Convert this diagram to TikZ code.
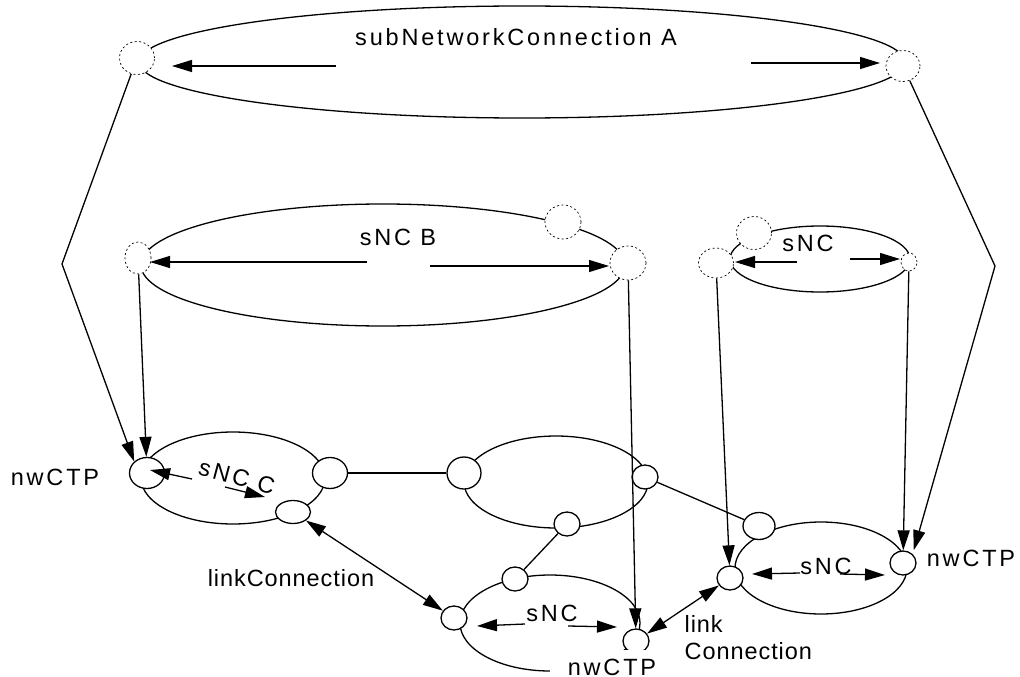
\documentclass[tikz,border=0pt]{standalone}
\usepackage{fontspec}
\setmainfont{Liberation Sans}
\newfontfamily\widefont[LetterSpace=12]{Liberation Sans}
\newfontfamily\linkfont[LetterSpace=4]{Liberation Sans}
\usetikzlibrary{shapes.geometric, arrows.meta}

\tikzstyle{snc}=[ellipse, draw, inner sep=0]
\tikzstyle{ctp}=[ellipse, draw, fill=white, inner sep=0,
                 minimum width=26pt, minimum height=24pt]
\tikzstyle{ghost}=[ellipse, draw, fill=white, inner sep=0, line width=0.7pt,
                   dash pattern=on 2pt off 2.5pt,
                   minimum width=35pt, minimum height=33pt]
\tikzstyle{lbl}=[font=\widefont\fontsize{23.5}{28}\selectfont, inner sep=1pt]
\tikzstyle{linklbl}=[font=\linkfont\fontsize{23.5}{27}\selectfont, inner sep=1pt]

\begin{document}
\begin{tikzpicture}[x=1pt, y=-1pt, line width=1.3pt,
                    >={Triangle[length=20pt, width=12pt]}]
\useasboundingbox (0, 0) rectangle (1020, 677);
%%%%%%%%%%%%%%%%%%%%%%%%%%%%%%
% nodes

% subNetworkConnection A
\node (snc_a) at (522, 62) [snc, minimum width=766pt, minimum height=112pt] {};
\node (ctp_a1) at (137, 58) [ghost] {};
\node (ctp_a2) at (903, 66) [ghost, minimum width=34pt, minimum height=31pt] {};
\node (lbl_a) at (516, 37) [lbl] {subNetworkConnection A};
\coordinate (kink_l) at (62, 264);
\coordinate (kink_r) at (995, 266);

% sNC B
\node (snc_b) at (383, 265) [snc, minimum width=484pt, minimum height=122pt] {};
\node (ctp_b1) at (138, 258) [ghost, minimum width=26pt, minimum height=32pt] {};
\node (ctp_b2) at (563, 222) [ghost, minimum width=36pt, minimum height=34pt] {};
\node (ctp_b3) at (628, 263) [ghost, minimum width=36pt, minimum height=34pt] {};
\node (lbl_b) at (398, 237) [lbl] {sNC B};

% small sNC
\node (snc_s) at (820, 259) [snc, minimum width=180pt, minimum height=66pt] {};
\node (ctp_s1) at (716, 263) [ghost, minimum width=35pt, minimum height=30pt] {};
\node (ctp_s2) at (754, 233) [ghost] {};
\node (ctp_s3) at (909, 262) [ghost, minimum width=16pt, minimum height=18pt] {};
\node (lbl_s) at (808, 243) [lbl] {sNC};

% sNC C
\node (snc_c) at (233, 478) [snc, minimum width=184pt, minimum height=92pt] {};
\node (ctp_c1) at (147, 473) [ctp, minimum width=35pt, minimum height=31pt] {};
\node (ctp_c2) at (330, 473) [ctp, minimum width=35pt, minimum height=31pt] {};
\node (ctp_c3) at (293, 512) [ctp, minimum width=35pt, minimum height=23pt] {};
\node (lbl_c) at (237, 477) [lbl, rotate=-15] {sNC C};
\node (nwctp_c) at (55, 477) [lbl] {nwCTP};

% middle
\node (snc_m) at (556, 482) [snc, minimum width=184pt, minimum height=92pt] {};
\node (ctp_m1) at (464, 473) [ctp, minimum width=34pt, minimum height=32pt] {};
\node (ctp_m2) at (645, 477) [ctp] {};
\node (ctp_m3) at (567, 524) [ctp] {};

% lower sNC
\node (snc_l) at (550, 623) [snc, minimum width=180pt, minimum height=96pt] {};
\node (ctp_l1) at (454, 618) [ctp] {};
\node (ctp_l2) at (515, 579) [ctp] {};
\node (ctp_l3) at (636, 641) [ctp] {};
\node (lbl_l) at (552, 613) [lbl] {sNC};
\node (nwctp_l) at (612, 667) [lbl, fill=white, inner xsep=18pt, inner ysep=9pt] {nwCTP};

% right sNC
\node (snc_r) at (821, 568) [snc, minimum width=172pt, minimum height=92pt] {};
\node (ctp_r1) at (730, 578) [ctp] {};
\node (ctp_r2) at (759, 526) [ctp, minimum width=32pt, minimum height=27pt] {};
\node (ctp_r3) at (903, 563) [ctp] {};
\node (lbl_r) at (826, 566) [lbl] {sNC};
\node (nwctp_r) at (971, 558) [lbl] {nwCTP};

\node (lbl_link_c) at (291, 578) [linklbl] {linkConnection};
\node (lbl_link_r) at (683, 638) [linklbl, anchor=west, align=left] {link\\Connection};

% arrow ends inside the ellipses
\coordinate (a_l_from) at (336, 66);
\coordinate (a_l_to) at (172, 66);
\coordinate (a_r_from) at (751, 63);
\coordinate (a_r_to) at (880, 63);
\coordinate (b_l_from) at (367, 262);
\coordinate (b_l_to) at (150, 262);
\coordinate (b_r_from) at (430, 266);
\coordinate (b_r_to) at (609, 266);
\coordinate (s_l_from) at (797, 262);
\coordinate (s_l_to) at (735, 262);
\coordinate (s_r_from) at (850, 259);
\coordinate (s_r_to) at (900, 259);
\coordinate (c_l_from) at (192, 479);
\coordinate (c_l_to) at (150, 470);
\coordinate (c_r_from) at (225, 487);
\coordinate (c_r_to) at (265, 497);
\coordinate (l_l_from) at (525, 624);
\coordinate (l_l_to) at (477, 626);
\coordinate (l_r_from) at (568, 626);
\coordinate (l_r_to) at (617, 627);
\coordinate (r_l_from) at (800, 573);
\coordinate (r_l_to) at (752, 574);
\coordinate (r_r_from) at (840, 574);
\coordinate (r_r_to) at (885, 575);

%%%%%%%%%%%%%%%%%%%%%%%%%%%%%%
% links

% sNC arrows
\draw [->] (a_l_from) -- (a_l_to);
\draw [->] (a_r_from) -- (a_r_to);
\draw [->] (b_l_from) -- (b_l_to);
\draw [->] (b_r_from) -- (b_r_to);
\draw [->] (s_l_from) -- (s_l_to);
\draw [->] (s_r_from) -- (s_r_to);
\draw [->] (c_l_from) -- (c_l_to);
\draw [->] (c_r_from) -- (c_r_to);
\draw [->] (l_l_from) -- (l_l_to);
\draw [->] (l_r_from) -- (l_r_to);
\draw [->] (r_l_from) -- (r_l_to);
\draw [->] (r_r_from) -- (r_r_to);

% down to the nwCTPs
\draw [->] (ctp_a1) -- (kink_l) -- (ctp_c1.north west);
\draw [->, shorten >=4pt] (ctp_a2) -- (kink_r) -- (ctp_r3.north east);
\draw [->] (ctp_b1) -- (ctp_c1);
\draw [->] (ctp_b3) -- (ctp_l3);
\draw [->] (ctp_s1) -- (ctp_r1);
\draw [->] (ctp_s3) -- (ctp_r3);

% between sNCs
\draw (ctp_c2) -- (ctp_m1);
\draw (ctp_m2) -- (ctp_r2);
\draw (ctp_m3) -- (ctp_l2);
\draw [<->] (ctp_c3) -- (ctp_l1);
\draw [<->] (ctp_l3) -- (ctp_r1);

\end{tikzpicture}
\end{document}
